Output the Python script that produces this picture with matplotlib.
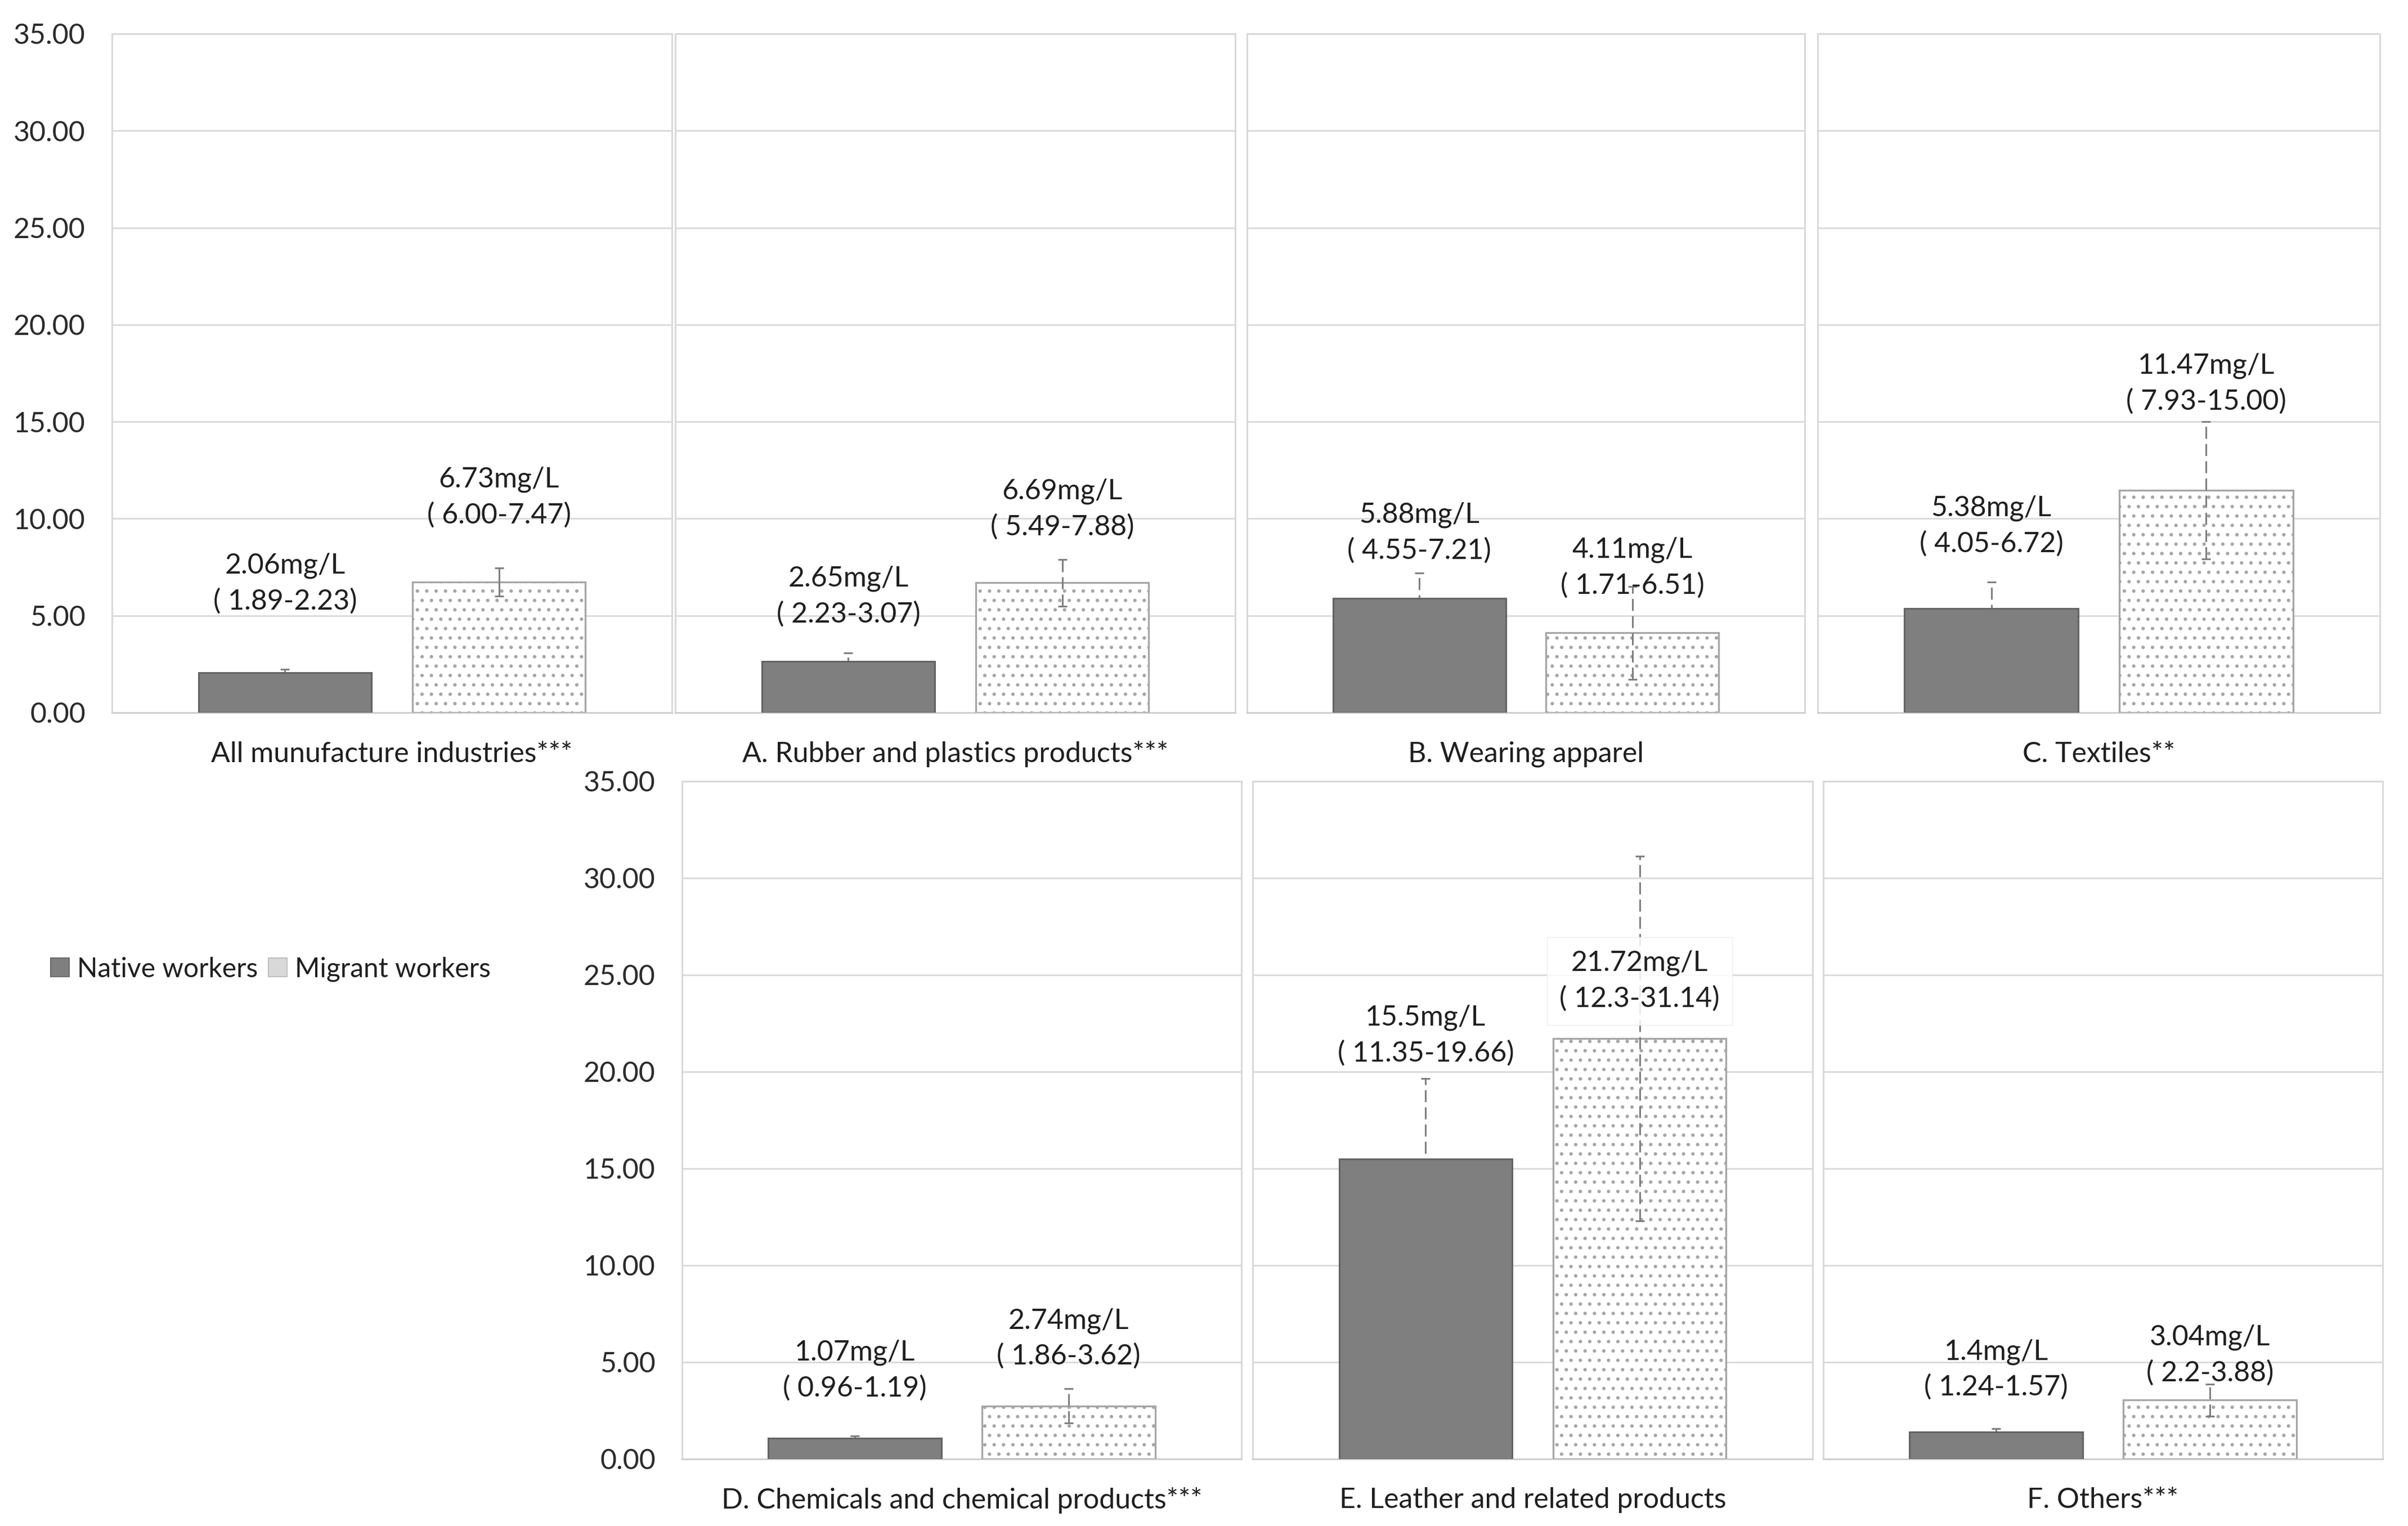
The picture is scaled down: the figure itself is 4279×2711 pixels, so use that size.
import matplotlib
matplotlib.use("Agg")
import matplotlib.pyplot as plt
from matplotlib.patches import Patch

# ---------------- data ----------------
categories = [
    "All munufacture industries***",
    "A. Rubber and plastics products***",
    "B. Wearing apparel",
    "C. Textiles**",
    "D. Chemicals and chemical products***",
    "E. Leather and related products",
    "F. Others***",
]
series = ["Native workers", "Migrant workers"]

native_mean = [2.06, 2.65, 5.88, 5.38, 1.07, 15.5, 1.4]
native_low = [1.89, 2.23, 4.55, 4.05, 0.96, 11.35, 1.24]
native_high = [2.23, 3.07, 7.21, 6.72, 1.19, 19.66, 1.57]

migrant_mean = [6.73, 6.69, 4.11, 11.47, 2.74, 21.72, 3.04]
migrant_low = [6.00, 5.49, 1.71, 7.93, 1.86, 12.3, 2.2]
migrant_high = [7.47, 7.88, 6.51, 15.00, 3.62, 31.14, 3.88]

native_labels = [
    "2.06mg/L\n( 1.89-2.23)",
    "2.65mg/L\n( 2.23-3.07)",
    "5.88mg/L\n( 4.55-7.21)",
    "5.38mg/L\n( 4.05-6.72)",
    "1.07mg/L\n( 0.96-1.19)",
    "15.5mg/L\n( 11.35-19.66)",
    "1.4mg/L\n( 1.24-1.57)",
]
migrant_labels = [
    "6.73mg/L\n( 6.00-7.47)",
    "6.69mg/L\n( 5.49-7.88)",
    "4.11mg/L\n( 1.71-6.51)",
    "11.47mg/L\n( 7.93-15.00)",
    "2.74mg/L\n( 1.86-3.62)",
    "21.72mg/L\n( 12.3-31.14)",
    "3.04mg/L\n( 2.2-3.88)",
]

yticks = [0, 5, 10, 15, 20, 25, 30, 35]
ytick_labels = ["0.00", "5.00", "10.00", "15.00", "20.00", "25.00", "30.00", "35.00"]

# ---------------- layout (not data) ----------------
# label block centres (in axis value units) as placed in the original
native_label_y = [6.67, 5.98, 9.26, 9.62, 4.58, 21.88, 4.62]
migrant_label_y = [11.10, 10.48, 7.48, 16.96, 6.22, 24.68, 5.37]

W, H = 4279, 2711
panel_rects = [
    (199, 60, 995, 1206),
    (1200, 60, 995, 1206),
    (2216, 60, 991, 1206),
    (3230, 60, 999, 1206),
    (1212, 1388, 994, 1204),
    (2226, 1388, 995, 1204),
    (3240, 1388, 994, 1204),
]

FONT = ["Lato", "DejaVu Sans"]
plt.rcParams["font.family"] = FONT
plt.rcParams["hatch.linewidth"] = 2.0

NATIVE_FC = "#7f7f7f"
NATIVE_EC = "#636363"
MIGR_EC = "#a6a6a6"
ERR_C = "#7f7f7f"
GRID_C = "#d9d9d9"
TXT_C = "#1f1f1f"
FS = 36

fig = plt.figure(figsize=(W / 100, H / 100), dpi=100)

for i, (px, py, pw, ph) in enumerate(panel_rects):
    ax = fig.add_axes([px / W, 1 - (py + ph) / H, pw / W, ph / H])
    ax.set_xlim(-0.809, 1.809)
    ax.set_ylim(0, 35)
    ax.set_yticks(yticks)
    ax.set_xticks([])
    ax.grid(axis="y", color=GRID_C, lw=2.0, zorder=0)
    ax.set_axisbelow(True)
    for sp in ax.spines.values():
        sp.set_color(GRID_C)
        sp.set_linewidth(2.2)
    ax.spines["bottom"].set_color("#cfcfcf")
    ax.tick_params(axis="y", length=0, pad=34, labelsize=FS, labelcolor="#2b2b2b")
    if i in (0, 4):
        ax.set_yticklabels(ytick_labels)
    else:
        ax.tick_params(axis="y", labelleft=False)

    dashed = i != 0

    # native: error bar behind bar
    eb_n = ax.errorbar(
        0, native_mean[i],
        yerr=[[native_mean[i] - native_low[i]], [native_high[i] - native_mean[i]]],
        fmt="none", ecolor=ERR_C, elinewidth=2.2, capsize=6, capthick=2.2, zorder=2,
    )
    ax.bar(0, native_mean[i], width=0.81, color=NATIVE_FC, edgecolor=NATIVE_EC,
           linewidth=2.2, zorder=3)
    ax.bar(1, migrant_mean[i], width=0.81, facecolor="white", edgecolor=MIGR_EC,
           hatch=".", linewidth=2.4, zorder=3)
    eb_m = ax.errorbar(
        1, migrant_mean[i],
        yerr=[[migrant_mean[i] - migrant_low[i]], [migrant_high[i] - migrant_mean[i]]],
        fmt="none", ecolor=ERR_C, elinewidth=2.2, capsize=6, capthick=2.2, zorder=4,
    )
    if dashed:
        for eb in (eb_n, eb_m):
            for lc in eb.lines[2]:
                lc.set_linestyle((0, (7, 3)))

    ax.text(0, native_label_y[i], native_labels[i], ha="center", va="center",
            fontsize=FS, color=TXT_C, linespacing=1.45, zorder=6)
    bbox = None
    if i == 5:
        bbox = dict(boxstyle="square,pad=0.45", facecolor="white", edgecolor="#ececec",
                    lw=1.0, alpha=0.85)
    ax.text(1, migrant_label_y[i], migrant_labels[i], ha="center", va="center",
            fontsize=FS, color=TXT_C, linespacing=1.45, zorder=6, bbox=bbox)

    ax.text(0.5, -0.061, categories[i], transform=ax.transAxes, ha="center",
            va="center", fontsize=FS, color=TXT_C)

handles = [
    Patch(facecolor=NATIVE_FC, edgecolor="#6b6b6b", linewidth=1.5),
    Patch(facecolor="#d9d9d9", edgecolor="#bfbfbf", linewidth=1.5),
]
fig.legend(handles, series, loc="center left", bbox_to_anchor=(90 / W, 1 - 1722 / H),
           ncol=2, frameon=False, fontsize=34.5, handlelength=0.68, handleheight=0.68,
           handletextpad=0.3, columnspacing=0.4, borderaxespad=0, borderpad=0,
           labelcolor=TXT_C)

fig.savefig("out.png", dpi=100, facecolor="white")
